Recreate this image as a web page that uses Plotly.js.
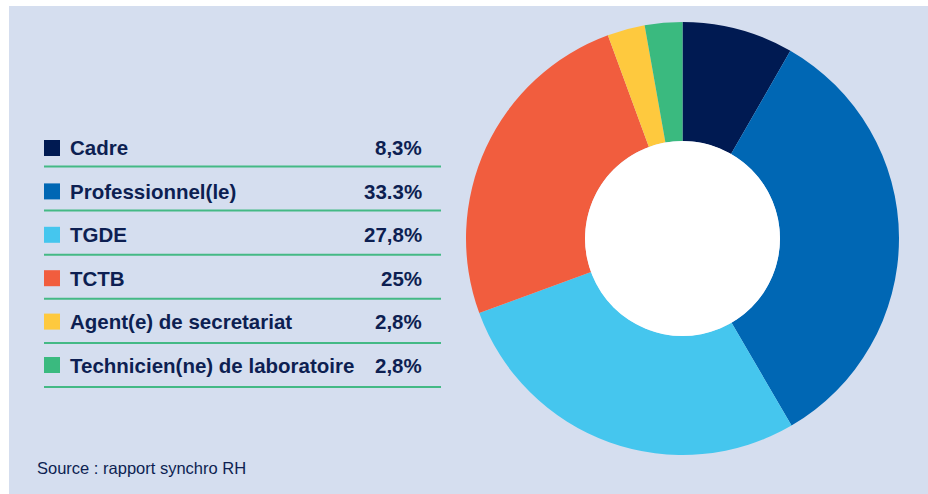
<!DOCTYPE html>
<html>
<head>
<meta charset="utf-8">
<script src="https://cdn.plot.ly/plotly-3.0.1.min.js"></script>
<style>html,body{margin:0;padding:0;background:#fff;}#chart{width:928px;height:494px;}</style>
</head>
<body>
<div id="chart"></div>
<script>
const categories = ["Cadre", "Professionnel(le)", "TGDE", "TCTB", "Agent(e) de secretariat", "Technicien(ne) de laboratoire"];
const values = [8.3, 33.3, 27.8, 25, 2.8, 2.8];
const valueLabels = ["8,3%", "33.3%", "27,8%", "25%", "2,8%", "2,8%"];
const colors = ["#001a52", "#0067b4", "#45c6ee", "#f15d3e", "#fec93e", "#3aba7f"];
const sourceText = "Source : rapport synchro RH";

const W = 928, H = 494;
const px = x => x / W;
const py = y => 1 - y / H;
const textColor = "#0d1f52";
const panel = "#d5deef";
const lineColor = "#44b985";
const font = "Liberation Sans, Arial, sans-serif";

const shapes = [{
  type: "rect", xref: "paper", yref: "paper", layer: "below",
  x0: px(9), x1: px(928), y0: py(494), y1: py(6),
  fillcolor: panel, line: {width: 0}
}, {
  type: "circle", xref: "paper", yref: "paper", layer: "above",
  x0: px(585), x1: px(780), y0: py(336), y1: py(141),
  fillcolor: "#ffffff", line: {width: 0}
}];
const annotations = [];
const rowY0 = 148, rowStep = 43.4, lineY0 = 166.5, lineStep = 44.1;
categories.forEach((c, i) => {
  const yc = rowY0 + i * rowStep;
  const yl = lineY0 + i * lineStep;
  shapes.push({type: "rect", xref: "paper", yref: "paper",
    x0: px(44), x1: px(60), y0: py(yc + 8), y1: py(yc - 8),
    fillcolor: colors[i], line: {width: 0}});
  shapes.push({type: "line", xref: "paper", yref: "paper",
    x0: px(44), x1: px(441), y0: py(yl), y1: py(yl),
    line: {color: lineColor, width: 2}});
  annotations.push({xref: "paper", yref: "paper", x: px(68), y: py(yc),
    xanchor: "left", yanchor: "middle", showarrow: false, text: "<b>" + c + "</b>",
    font: {family: font, size: 20.5, color: textColor}});
  annotations.push({xref: "paper", yref: "paper", x: px(424), y: py(yc),
    xanchor: "right", yanchor: "middle", showarrow: false, text: "<b>" + valueLabels[i] + "</b>",
    font: {family: font, size: 20.5, color: textColor}});
});
annotations.push({xref: "paper", yref: "paper", x: px(35), y: py(468),
  xanchor: "left", yanchor: "middle", showarrow: false, text: sourceText,
  font: {family: font, size: 16.5, color: textColor}});

const trace = {
  type: "pie",
  labels: categories,
  values: values,
  marker: {colors: colors, line: {width: 0}},
  hole: 0.45,
  sort: false,
  direction: "clockwise",
  rotation: 0,
  textinfo: "none",
  hoverinfo: "label+percent",
  domain: {x: [px(466), px(899)], y: [py(455), py(22)]},
  showlegend: false
};

Plotly.newPlot("chart", [trace], {
  width: W, height: H,
  margin: {l: 0, r: 0, t: 0, b: 0},
  paper_bgcolor: "#ffffff",
  plot_bgcolor: "rgba(0,0,0,0)",
  showlegend: false,
  shapes: shapes,
  annotations: annotations
}, {displayModeBar: false, staticPlot: true});
</script>
</body>
</html>
